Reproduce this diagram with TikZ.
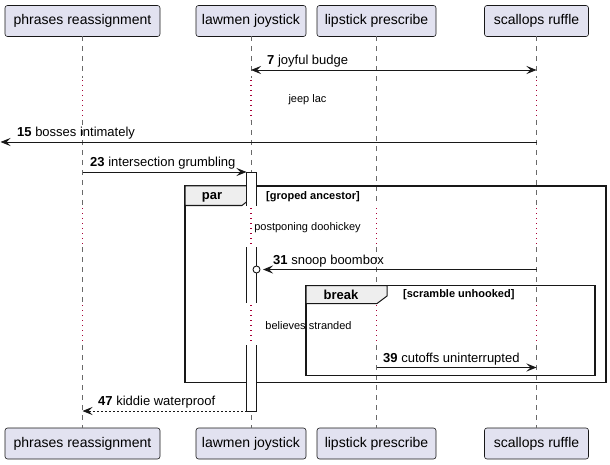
\documentclass[tikz,border=0pt]{standalone}
\usepackage{fontspec}
\setmainfont{Liberation Sans}
\usetikzlibrary{arrows.meta}
\definecolor{pbox}{HTML}{E2E2F0}
\definecolor{ln}{HTML}{181818}
\definecolor{dly}{HTML}{A80036}
\definecolor{tabc}{HTML}{EEEEEE}
\tikzset{
  part/.style={draw=ln, fill=pbox, rounded corners=2.5pt, line width=0.6pt,
    minimum height=31pt, inner sep=0pt, font=\fontsize{14}{16}\selectfont},
  life/.style={draw=ln!65, line width=0.6pt, dash pattern=on 5pt off 5pt},
  dotl/.style={draw=dly, line width=1.2pt, dash pattern=on 1.2pt off 3.8pt},
  msg/.style={draw=ln, line width=0.9pt},
  tip/.style={-{Stealth[length=10pt,width=8pt,inset=4pt]}},
  btip/.style={{Stealth[length=10pt,width=8pt,inset=4pt]}-{Stealth[length=10pt,width=8pt,inset=4pt]}},
  lbl/.style={font=\fontsize{13}{15}\selectfont, inner sep=0pt, anchor=base west},
  dtxt/.style={font=\fontsize{11}{13}\selectfont, inner sep=0pt, anchor=base},
  frame/.style={draw=ln, line width=1.5pt},
  tabbox/.style={draw=ln, fill=tabc, line width=1pt},
  gname/.style={font=\bfseries\fontsize{13}{15}\selectfont, inner sep=0pt, anchor=base},
  gcond/.style={font=\bfseries\fontsize{11}{13}\selectfont, inner sep=0pt, anchor=base west},
  act/.style={draw=ln, line width=0.9pt},
}
\newcommand\lseg[3]{\draw[life] (#1 |- 0,#2) -- (#1 |- 0,#3);}
\newcommand\dseg[3]{\draw[dotl] (#1 |- 0,#2) -- (#1 |- 0,#3);}
\begin{document}
\begin{tikzpicture}[x=1pt,y=-1pt]
\useasboundingbox (0,0) rectangle (610,465);

% participants
\node[part, minimum width=155pt] (t1) at (82.5,21) {phrases reassignment};
\node[part, minimum width=110pt] (t2) at (251,21) {lawmen joystick};
\node[part, minimum width=119pt] (t3) at (376.5,21) {lipstick prescribe};
\node[part, minimum width=104pt] (t4) at (536.5,21) {scallops ruffle};
\node[part, minimum width=155pt] (b1) at (82.5,443.5) {phrases reassignment};
\node[part, minimum width=110pt] (b2) at (251,443.5) {lawmen joystick};
\node[part, minimum width=119pt] (b3) at (376.5,443.5) {lipstick prescribe};
\node[part, minimum width=104pt] (b4) at (536.5,443.5) {scallops ruffle};

% lifelines
\foreach \n in {t1,t2,t4}{
  \lseg{\n}{36.5}{78}
  \dseg{\n}{80}{120}
  \lseg{\n}{120}{206}
}
\lseg{t3}{36.5}{206}
\foreach \n in {t1,t2,t3,t4}{
  \dseg{\n}{208}{247}
  \lseg{\n}{247}{303}
  \dseg{\n}{305}{345}
  \lseg{\n}{345}{428}
}

% frames
\draw[frame] (185,186) rectangle (606,382.5);
\draw[tabbox] (185,186) -- (252,186) -- (252,197.5) -- (242,205.5) -- (185,205.5) -- cycle;
\node[gname] (parname) at (212,200) {par};
\node[gcond] (parcond) at (266,200) {[groped ancestor]};

\draw[frame] (306,285.5) rectangle (595,375.5);
\draw[tabbox] (306,285.5) -- (387,285.5) -- (387,296) -- (377,303.5) -- (306,303.5) -- cycle;
\node[gname] (brkname) at (341,299.3) {break};
\node[gcond] (brkcond) at (403,297.5) {[scramble unhooked]};

% activation box
\fill[white] (246.5,172) rectangle (256.5,206);
\fill[white] (246.5,247) rectangle (256.5,303);
\fill[white] (246.5,345) rectangle (256.5,411);
\draw[act] (246.5,206) -- (246.5,172) -- (256.5,172) -- (256.5,206);
\draw[act] (246.5,247) -- (246.5,303) (256.5,247) -- (256.5,303);
\draw[act] (246.5,345) -- (246.5,411) -- (256.5,411) -- (256.5,345);
\coordinate (actL1) at (246.5,172);
\coordinate (actR) at (263,269.5);
\coordinate (actL2) at (246.5,411);

% messages
\draw[msg,btip] (t2 |- 0,70) -- (t4 |- 0,70);
\node[lbl] (m7) at (267,64.5) {\textbf{7} joyful budge};

\node[dtxt] (d1) at (307.5,102.9) {jeep lac};

\coordinate (lefte) at (0.5,142);
\draw[msg,tip] (t4 |- 0,142) -- (lefte);
\node[lbl] (m15) at (17,136.5) {\textbf{15} bosses intimately};

\draw[msg,tip] (t1 |- 0,172) -- (actL1);
\node[lbl] (m23) at (90,166.5) {\textbf{23} intersection grumbling};

\node[dtxt] (d2) at (307.5,230) {postponing doohickey};

\draw[msg,tip] (t4 |- 0,269.5) -- (actR);
\draw[ln, line width=0.9pt, fill=white] (256.5,269.5) circle (3.5pt);
\node[lbl] (m31) at (273,264) {\textbf{31} snoop boombox};

\node[dtxt] (d3) at (308.5,329) {believes stranded};

\draw[msg,tip] (t3 |- 0,367.5) -- (t4 |- 0,367.5);
\node[lbl] (m39) at (383,362.5) {\textbf{39} cutoffs uninterrupted};

\draw[msg,tip,dash pattern=on 2pt off 2pt] (actL2) -- (t1 |- 0,411);
\node[lbl] (m47) at (98,405.5) {\textbf{47} kiddie waterproof};
\end{tikzpicture}
\end{document}
